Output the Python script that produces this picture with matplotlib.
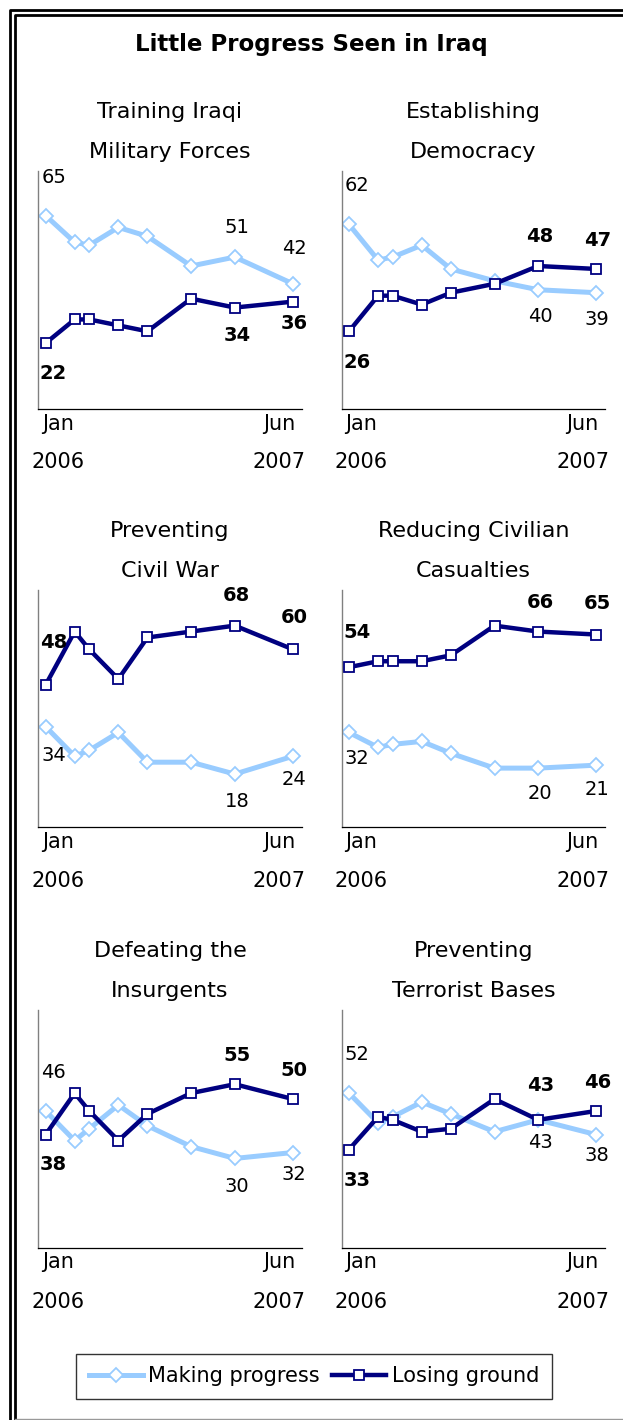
import numpy as np
import matplotlib.pyplot as plt
from matplotlib.lines import Line2D

plt.rcParams['font.family'] = ['DejaVu Sans']

# survey months, counted from Jan 2006
months = [0, 2, 3, 5, 7, 10, 13, 17]

chart_title = "Little Progress Seen in Iraq"
panel_titles = [
    ("Training Iraqi", "Military Forces"),
    ("Establishing", "Democracy"),
    ("Preventing", "Civil War"),
    ("Reducing Civilian", "Casualties"),
    ("Defeating the", "Insurgents"),
    ("Preventing", "Terrorist Bases"),
]

making_progress = [
    [65, 56, 55, 61, 58, 48, 51, 42],
    [62, 50, 51, 55, 47, 43, 40, 39],
    [34, 24, 26, 32, 22, 22, 18, 24],
    [32, 27, 28, 29, 25, 20, 20, 21],
    [46, 36, 40, 48, 41, 34, 30, 32],
    [52, 42, 44, 49, 45, 39, 43, 38],
]
losing_ground = [
    [22, 30, 30, 28, 26, 37, 34, 36],
    [26, 38, 38, 35, 39, 42, 48, 47],
    [48, 66, 60, 50, 64, 66, 68, 60],
    [54, 56, 56, 56, 58, 68, 66, 65],
    [38, 52, 46, 36, 45, 52, 55, 50],
    [33, 44, 43, 39, 40, 50, 43, 46],
]

start_labels = ["Jan", "2006"]
end_labels = ["Jun", "2007"]
series_names = ["Making progress", "Losing ground"]

# which points carry a value label, and where (pixels from the point)
label_idx = [0, 6, 7]
label_dx = [8, 2, 1]
progress_dy = [[38, 30, 35], [39, -27, -27], [-29, -27, -23],
               [-26, -25, -24], [38, -28, -22], [39, -23, -21]]
losing_dy = [[-30, -28, -22], [-31, 30, 28], [42, 30, 32],
             [35, 29, 31], [-30, 29, 29], [-31, 34, 28]]

light = "#99CCFF"
navy = "#000080"

W, H = 623, 1420
fig = plt.figure(figsize=(W / 100, H / 100), dpi=100)

# double frame round the whole graphic
def frame_line(xs, ys, lw, color="black"):
    fig.add_artist(Line2D(np.array(xs) / W, 1 - np.array(ys) / H, lw=lw,
                          color=color, transform=fig.transFigure))

frame_line([9.5, 9.5, W], [H, 10, 10], 2.0)
frame_line([14.5, 14.5, W], [1418.5, 15, 15], 2.0)
frame_line([14.5, W], [1418.5, 1418.5], 1.0, "#999999")

fig.text(311 / W, 1 - 45 / H, chart_title, ha="center", va="center",
         fontsize=16.5, fontweight="bold")

col_left = [38.3, 341.7]
row_top = [171, 590, 1010]
ax_w, ax_h = 263.4, 237.5

diamond = dict(marker="D", ms=7, mfc="white", mec=light, mew=1.3)
square = dict(marker="s", ms=7.2, mfc="white", mec=navy, mew=1.3)

for i in range(6):
    r, c = divmod(i, 2)
    ax = fig.add_axes([col_left[c] / W, 1 - (row_top[r] + ax_h) / H, ax_w / W, ax_h / H])
    ax.plot(months, making_progress[i], color=light, lw=3.6,
            solid_joinstyle="miter", zorder=2, **diamond)
    ax.plot(months, losing_ground[i], color=navy, lw=3.2,
            solid_joinstyle="miter", zorder=3, **square)
    ax.set_xlim(-0.5, 17.6)
    ax.set_ylim(0, 80)
    ax.set_xticks([])
    ax.set_yticks([])
    for s in ["top", "right"]:
        ax.spines[s].set_visible(False)
    ax.spines["left"].set_color("#808080")
    ax.spines["left"].set_linewidth(1.0)
    ax.spines["bottom"].set_color("black")
    ax.spines["bottom"].set_linewidth(0.9)

    for k, j in enumerate(label_idx):
        ax.annotate(str(making_progress[i][j]), (months[j], making_progress[i][j]),
                    xytext=(label_dx[k], progress_dy[i][k]), textcoords="offset pixels",
                    ha="center", va="center", fontsize=14)
        ax.annotate(str(losing_ground[i][j]), (months[j], losing_ground[i][j]),
                    xytext=(label_dx[k], losing_dy[i][k]), textcoords="offset pixels",
                    ha="center", va="center", fontsize=14, fontweight="bold")

    for line, dy in zip(panel_titles[i], [59, 19]):
        ax.annotate(line, (0.5, 1), xycoords="axes fraction", xytext=(0, dy),
                    textcoords="offset pixels", ha="center", va="center", fontsize=16)

    for lab, dy in zip(start_labels, [-15, -54]):
        ax.annotate(lab, (0.075, 0), xycoords="axes fraction", xytext=(0, dy),
                    textcoords="offset pixels", ha="center", va="center", fontsize=15)
    for lab, dy in zip(end_labels, [-15, -54]):
        ax.annotate(lab, (0.915, 0), xycoords="axes fraction", xytext=(0, dy),
                    textcoords="offset pixels", ha="center", va="center", fontsize=15)

handles = [
    Line2D([], [], color=light, lw=3.6, **diamond),
    Line2D([], [], color=navy, lw=3.2, **square),
]
leg = fig.legend(handles, series_names, loc="center", ncol=2,
                 bbox_to_anchor=((76 + 551.7) / 2 / W, 1 - (1350.7 + 1401.7) / 2 / H),
                 fontsize=15, frameon=True, fancybox=False, shadow=False,
                 handlelength=2.6, handletextpad=0.27, columnspacing=0.58,
                 borderpad=0.6, borderaxespad=0)
leg.get_frame().set_edgecolor("black")
leg.get_frame().set_linewidth(1.0)

fig.savefig("out.png", dpi=100)
